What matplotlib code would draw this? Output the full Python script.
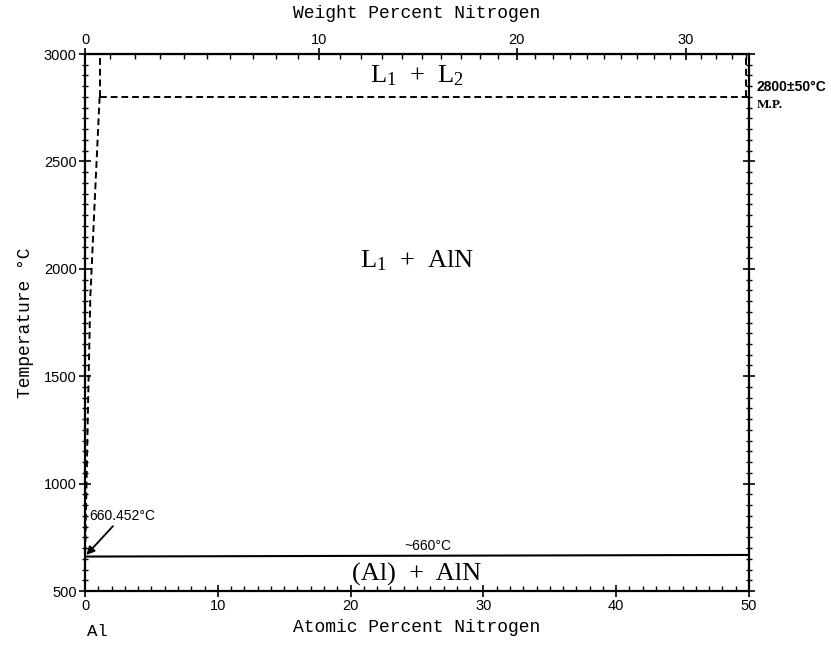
import matplotlib
matplotlib.use("Agg")
import numpy as np
import matplotlib.pyplot as plt
from matplotlib.ticker import MultipleLocator

# atomic masses for the weight percent scale
M_N = 14.007
M_AL = 26.982

# liquidus of L1 on the Al side (dashed)
liq_at = [1.1, 0.75, 0.4, 0.2, 0.05, 0.0]
liq_t = [2800, 2340, 1870, 1280, 800, 660.452]

# monotectic at 2800 C and the L1/L2 boundaries above it
mono_at = [1.1, 50]
mono_t = [2800, 2800]
l1_edge_at = [1.1, 1.1]
l2_edge_at = [49.8, 49.8]
edge_t = [2800, 3000]

# eutectic-type line at ~660 C
eut_at = [0, 50]
eut_t = [660.452, 668]

MONO = "Liberation Mono"
SANS = "Liberation Sans"
SERIF = "Liberation Serif"

plt.rcParams["mathtext.fontset"] = "custom"
plt.rcParams["mathtext.rm"] = SERIF
plt.rcParams["mathtext.it"] = SERIF


def at_to_wt(a):
    a = np.asarray(a, dtype=float)
    return 100 * a * M_N / (a * M_N + (100 - a) * M_AL)


def wt_to_at(w):
    w = np.asarray(w, dtype=float)
    return 100 * (w / M_N) / (w / M_N + (100 - w) / M_AL)


fig = plt.figure(figsize=(8.31, 6.46), dpi=100)
ax = fig.add_axes([0.1023, 0.0851, 0.799, 0.8313])

ax.plot(liq_at, liq_t, color="black", lw=1.4, ls=(0, (3.5, 2)))
ax.plot(mono_at, mono_t, color="black", lw=1.4, ls=(0, (3.5, 2)))
ax.plot(l1_edge_at, edge_t, color="black", lw=1.4, ls=(0, (3.5, 2)))
ax.plot(l2_edge_at, edge_t, color="black", lw=1.4, ls=(0, (3.5, 2)))
ax.plot(eut_at, eut_t, color="black", lw=1.5)

ax.set_xlim(0, 50)
ax.set_ylim(500, 3000)

for s in ax.spines.values():
    s.set_linewidth(1.6)

ax.xaxis.set_major_locator(MultipleLocator(10))
ax.xaxis.set_minor_locator(MultipleLocator(1))
ax.yaxis.set_major_locator(MultipleLocator(500))
ax.yaxis.set_minor_locator(MultipleLocator(50))
ax.tick_params(which="major", direction="inout", length=8, width=1.2,
               right=True, labelsize=10.5, pad=2)
ax.tick_params(which="minor", direction="in", length=3.5, width=1.0,
               right=True)
ax.tick_params(axis="y", which="minor", direction="inout", length=5)
ax.tick_params(labelright=False)
for lab in ax.get_xticklabels() + ax.get_yticklabels():
    lab.set_family(SANS)

top = ax.secondary_xaxis("top", functions=(at_to_wt, wt_to_at))
top.set_xticks([0, 10, 20, 30])
top.set_xticks([w for w in range(0, 35) if w % 10], minor=True)
top.tick_params(which="major", direction="inout", length=8, width=1.2,
                labelsize=10.5, pad=1)
top.tick_params(which="minor", direction="in", length=3.5, width=1.0)
for lab in top.get_xticklabels():
    lab.set_family(SANS)
top.set_xlabel("Weight Percent Nitrogen", family=MONO, fontsize=13,
               labelpad=11)

ax.set_xlabel("Atomic Percent Nitrogen", family=MONO, fontsize=13,
              labelpad=4)
ax.set_ylabel("Temperature \u00b0C", family=MONO, fontsize=13,
              labelpad=7)

# phase region labels
ax.text(25, 2900, "L$_1$  +  L$_2$", family=SERIF, fontsize=19,
        ha="center", va="center")
ax.text(25, 2040, "L$_1$  +  AlN", family=SERIF, fontsize=19,
        ha="center", va="center")
ax.text(25, 578, "(Al)  +  AlN", family=SERIF, fontsize=19,
        ha="center", va="center")
ax.text(25.8, 678, "~660\u00b0C", family=SANS, fontsize=10,
        ha="center", va="bottom")

ax.annotate("660.452\u00b0C", xy=(0.1, 668), xytext=(0.3, 815),
            family=SANS, fontsize=10, ha="left", va="bottom",
            arrowprops=dict(arrowstyle="-|>", color="black", lw=1.3,
                            shrinkA=0, shrinkB=0, mutation_scale=12))

ax.text(50.6, 2815, "2800\u00b150\u00b0C", family=SANS, fontsize=10,
        fontweight="bold", ha="left", va="bottom", clip_on=False)
ax.text(50.6, 2790, "M.P.", family=SERIF, fontsize=9.5,
        fontweight="bold", ha="left", va="top", clip_on=False)

ax.text(0.9, 310, "Al", family=MONO, fontsize=12.5,
        ha="center", va="center", clip_on=False)

fig.savefig("out.png", dpi=100)
